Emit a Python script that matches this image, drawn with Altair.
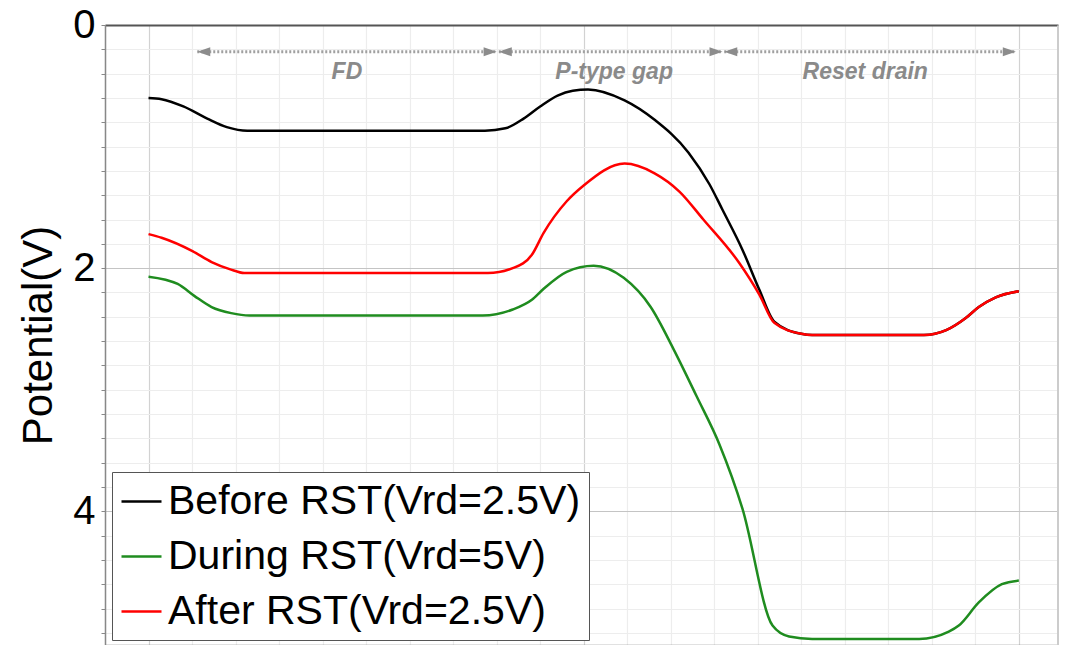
import altair as alt
import pandas as pd

# ---------------- data ----------------
series_names = ["Before RST(Vrd=2.5V)", "During RST(Vrd=5V)", "After RST(Vrd=2.5V)"]
series_colors = ["#000000", "#1f8c1f", "#ff0000"]

before_x = [0.0, 0.3, 0.8, 1.35, 1.8, 2.27, 7.73, 8.2, 8.62, 9.0, 9.4, 9.75, 10.1, 10.94, 11.63,
            12.41, 12.89, 13.19, 13.65, 14.04, 14.38, 15.0, 15.25, 17.82, 18.33, 18.78,
            19.08, 19.47, 20.0]
before_y = [0.60, 0.61, 0.67, 0.77, 0.84, 0.87, 0.87, 0.85, 0.77, 0.67, 0.58, 0.54, 0.53, 0.62, 0.78,
            1.05, 1.31, 1.52, 1.85, 2.18, 2.44, 2.54, 2.55, 2.55, 2.51, 2.41,
            2.32, 2.24, 2.19]

during_x = [0.0, 0.67, 1.06, 1.45, 1.9, 2.32, 7.68, 8.37, 8.81, 9.08, 9.61, 10.23, 10.92,
            11.54, 12.07, 12.59, 13.12, 13.65, 14.34, 14.72, 15.25, 17.71, 18.39, 18.62,
            19.08, 19.61, 20.0]
during_y = [2.07, 2.13, 2.23, 2.32, 2.37, 2.39, 2.39, 2.34, 2.26, 2.17, 2.03, 1.98, 2.08,
            2.32, 2.67, 3.05, 3.45, 3.98, 4.94, 5.03, 5.05, 5.05, 4.99, 4.94,
            4.75, 4.60, 4.57]

after_x = [0.0, 0.3, 1.01, 1.45, 1.88, 2.2, 7.8, 8.37, 8.81, 9.08, 9.61, 10.0, 10.94, 11.63,
           12.2, 12.75, 13.58, 14.04, 14.38, 15.0, 15.25, 17.82, 18.33, 18.78, 19.08,
           19.47, 20.0]
after_y = [1.72, 1.75, 1.86, 1.95, 2.01, 2.04, 2.04, 2.00, 1.89, 1.71, 1.45, 1.32, 1.14, 1.22,
           1.37, 1.60, 1.96, 2.22, 2.45, 2.54, 2.55, 2.55, 2.51, 2.41, 2.32,
           2.24, 2.19]

region_labels = ["FD", "P-type gap", "Reset drain"]
region_start = [1.12, 8.05, 13.23]
region_end = [8.0, 13.19, 19.93]
region_label_x = [4.56, 10.7, 16.47]
region_arrow_y = [0.22, 0.22, 0.22]
region_label_y = [0.39, 0.39, 0.39]

# ---------------- tables ----------------
rows = []
for name, xs, ys in zip(series_names, [before_x, during_x, after_x], [before_y, during_y, after_y]):
    for xv, yv in zip(xs, ys):
        rows.append({"series": name, "x": xv, "v": yv})
df = pd.DataFrame(rows)

regions = pd.DataFrame({
    "label": region_labels,
    "start": region_start,
    "end": region_end,
    "lx": region_label_x,
    "ay": region_arrow_y,
    "ly": region_label_y,
})

FONT = "Liberation Sans"
x_scale = alt.Scale(domain=[-1, 20.9], nice=False, zero=False)
y_scale = alt.Scale(domain=[0, 5.1], nice=False, zero=False, reverse=True)

x_ticks = list(range(-1, 21))
y_ticks = [round(i * 0.2, 1) for i in range(26)]

x_axis = alt.Axis(
    orient="bottom", values=x_ticks, labels=False, ticks=True, tickSize=5,
    tickColor="#888888", domainColor="#888888", domainWidth=1.5,
    grid=True,
    gridColor={"condition": {"test": "datum.value % 10 == 0", "value": "#d2d2d2"}, "value": "#ededed"},
    gridWidth=1.2, title=None,
)
y_axis = alt.Axis(
    orient="left", values=y_ticks, tickSize=4, tickColor="#888888",
    domainColor="#888888", domainWidth=1.5,
    labelExpr="datum.value % 2 == 0 ? format(datum.value, 'd') : ''",
    labelOverlap=False, labelFlush=False, labelBound=False,
    labelFontSize=40, labelFont=FONT, labelColor="#000000", labelPadding=6,
    grid=True,
    gridColor={"condition": {"test": "datum.value % 2 == 0", "value": "#c4c4c4"}, "value": "#ededed"},
    gridWidth=1.2,
    title="Potential(V)", titleFontSize=42, titleFont=FONT, titleFontWeight="normal",
    titleColor="#000000", titlePadding=12,
)

lines = alt.Chart(df).mark_line(strokeWidth=2.5, interpolate="monotone").encode(
    x=alt.X("x:Q", scale=x_scale, axis=x_axis),
    y=alt.Y("v:Q", scale=y_scale, axis=y_axis),
    color=alt.Color(
        "series:N",
        scale=alt.Scale(domain=series_names, range=series_colors),
        legend=alt.Legend(
            orient="none", legendX=7, legendY=447, title=None,
            labelFontSize=41, labelFont=FONT, labelColor="#000000", labelLimit=0,
            labelOffset=5, symbolType="stroke", symbolSize=1600, symbolStrokeWidth=2.5,
            padding=8, rowPadding=13, strokeColor="#555555", fillColor="#ffffff",
        ),
    ),
)

border_x = alt.Axis(orient="top", labels=False, ticks=False, grid=False, domainColor="#555555",
                    domainWidth=2, title=None)
border_y = alt.Axis(orient="right", labels=False, ticks=False, grid=False, domainColor="#cccccc",
                    domainWidth=3, title=None)

arrows = alt.Chart(regions).mark_rule(strokeDash=[2, 2], strokeWidth=3, color="#a0a0a0").encode(
    x=alt.X("start:Q", scale=x_scale, axis=border_x),
    x2="end:Q",
    y=alt.Y("ay:Q", scale=y_scale, axis=border_y),
)

left_heads = alt.Chart(regions).mark_point(
    shape="M0,0L2,-0.7L2,0.7Z", size=169, filled=True, opacity=1, color="#8c8c8c"
).encode(
    x=alt.X("start:Q", scale=x_scale, axis=None),
    y=alt.Y("ay:Q", scale=y_scale, axis=None),
)
right_heads = alt.Chart(regions).mark_point(
    shape="M0,0L-2,-0.7L-2,0.7Z", size=169, filled=True, opacity=1, color="#8c8c8c"
).encode(
    x=alt.X("end:Q", scale=x_scale, axis=None),
    y=alt.Y("ay:Q", scale=y_scale, axis=None),
)

labels = alt.Chart(regions).mark_text(
    font=FONT, fontSize=23, fontStyle="italic", fontWeight="bold", color="#8a8a8a"
).encode(
    x=alt.X("lx:Q", scale=x_scale, axis=None),
    y=alt.Y("ly:Q", scale=y_scale, axis=None),
    text="label:N",
)

chart = alt.layer(lines, arrows, left_heads, right_heads, labels).resolve_axis(
    x="independent", y="independent"
).properties(
    width=953, height=620,
    autosize=alt.AutoSizeParams(type="none"),
    padding={"left": 97, "top": 17, "right": 1, "bottom": 0},
    background="#ffffff",
).configure_view(stroke=None).configure(font=FONT)

chart.save("out.html", embed_options={"renderer": "svg", "actions": False})
